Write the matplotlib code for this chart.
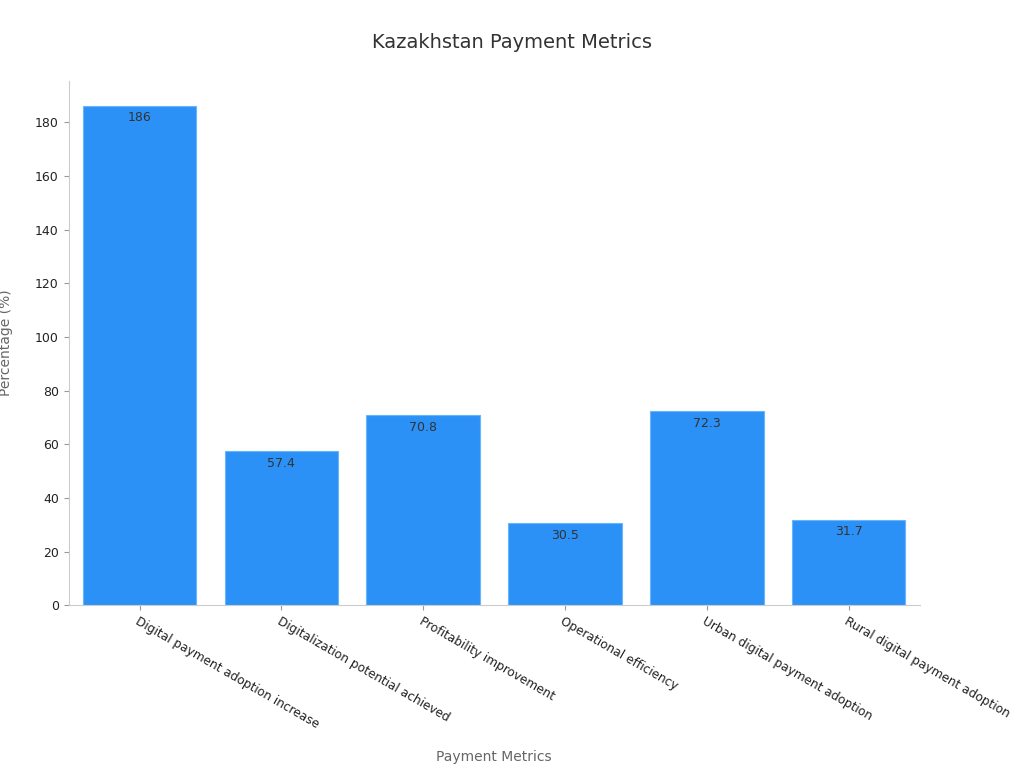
import matplotlib
matplotlib.use('Agg')
import matplotlib.pyplot as plt

categories = ['Digital payment adoption increase', 'Digitalization potential achieved',
              'Profitability improvement', 'Operational efficiency',
              'Urban digital payment adoption', 'Rural digital payment adoption']
values = [186, 57.4, 70.8, 30.5, 72.3, 31.7]
labels = ['186', '57.4', '70.8', '30.5', '72.3', '31.7']

plt.rcParams['font.family'] = ['DejaVu Sans']
fig = plt.figure(figsize=(10.24, 7.68), dpi=100)
ax = fig.add_axes([0.067, 0.212, 0.831, 0.683])

bars = ax.bar(range(len(values)), values, width=0.8, color='#2b91f7', edgecolor='#6ab4fa', linewidth=0.8)
for i, v in enumerate(values):
    ax.text(i, v - 2, labels[i], ha='center', va='top', fontsize=9, color='#333333')

ax.set_xlim(-0.5, 5.5)
ax.set_ylim(0, 195.5)
ax.set_yticks(range(0, 181, 20))
ax.set_xticks(range(len(values)))
ax.set_xticklabels(categories, rotation=-30, ha='left', rotation_mode='anchor', fontsize=8.7, color='#222222')
ax.tick_params(axis='y', labelsize=9, colors='#222222')
ax.tick_params(color='#999999')
for s in ['top', 'right']:
    ax.spines[s].set_visible(False)
for s in ['left', 'bottom']:
    ax.spines[s].set_color('#cccccc')

ax.set_ylabel('Percentage (%)', fontsize=10, color='#666666')
ax.yaxis.set_label_coords(-0.065, 0.5)
ax.set_xlabel('Payment Metrics', fontsize=10, color='#666666')
ax.xaxis.set_label_coords(0.5, -0.277)
fig.suptitle('Kazakhstan Payment Metrics', y=0.957, fontsize=14, color='#333333')

fig.savefig('out.png')
